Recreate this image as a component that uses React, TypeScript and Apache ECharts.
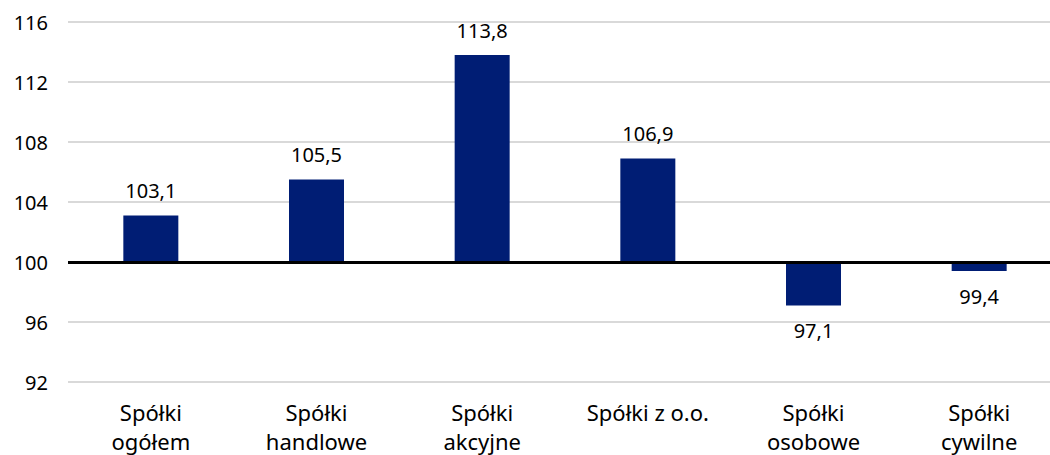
import React, { useEffect, useRef } from "react";
import * as echarts from "echarts";

const categories = [
  "Spółki\nogółem",
  "Spółki\nhandlowe",
  "Spółki\nakcyjne",
  "Spółki z o.o.",
  "Spółki\nosobowe",
  "Spółki\ncywilne",
];
const values = [103.1, 105.5, 113.8, 106.9, 97.1, 99.4];
const baseline = 100;
const yTicks = { min: 92, max: 116, interval: 4 };

const FONT = "'Noto Sans', sans-serif";

export default function App() {
  const ref = useRef<HTMLDivElement>(null);
  useEffect(() => {
    if (!ref.current) return;
    const chart = echarts.init(ref.current, undefined, { renderer: "svg" });
    const fmt = (v: number) => v.toFixed(1).replace(".", ",");
    chart.setOption({
      animation: false,
      textStyle: { fontFamily: FONT },
      grid: { left: 68, right: 0, top: 22, bottom: 69, containLabel: false },
      xAxis: {
        type: "category",
        data: categories,
        axisLine: { show: false, onZero: false },
        axisTick: { show: false },
        axisLabel: {
          color: "#000",
          fontSize: 22,
          lineHeight: 29,
          margin: 15,
          fontFamily: FONT,
          interval: 0,
        },
      },
      yAxis: {
        type: "value",
        min: yTicks.min - baseline,
        max: yTicks.max - baseline,
        interval: yTicks.interval,
        axisLine: { show: false },
        axisTick: { show: false },
        splitLine: { lineStyle: { color: "#d9d9d9", width: 2 } },
        axisLabel: {
          color: "#000",
          fontSize: 20,
          margin: 20,
          fontFamily: FONT,
          formatter: (v: number) => String(Math.round(v + baseline)),
        },
      },
      series: [
        {
          type: "bar",
          data: values.map((v) => v - baseline),
          barWidth: 55,
          itemStyle: { color: "#001d74" },
          label: {
            show: true,
            position: "outside",
            distance: 15,
            color: "#000",
            fontSize: 20,
            fontFamily: FONT,
            formatter: (p: any) => fmt(p.value + baseline),
          },
          markLine: {
            silent: true,
            symbol: "none",
            label: { show: false },
            lineStyle: { color: "#000", width: 3, type: "solid" },
            data: [{ yAxis: 0 }],
          },
        },
      ],
    });
    return () => chart.dispose();
  }, []);
  return (
    <div
      style={{ position: "fixed", left: 0, top: 0, width: 1050, height: 455, overflow: "hidden", background: "#fff" }}
    >
      <div ref={ref} style={{ width: 1062, height: 455 }} />
    </div>
  );
}
